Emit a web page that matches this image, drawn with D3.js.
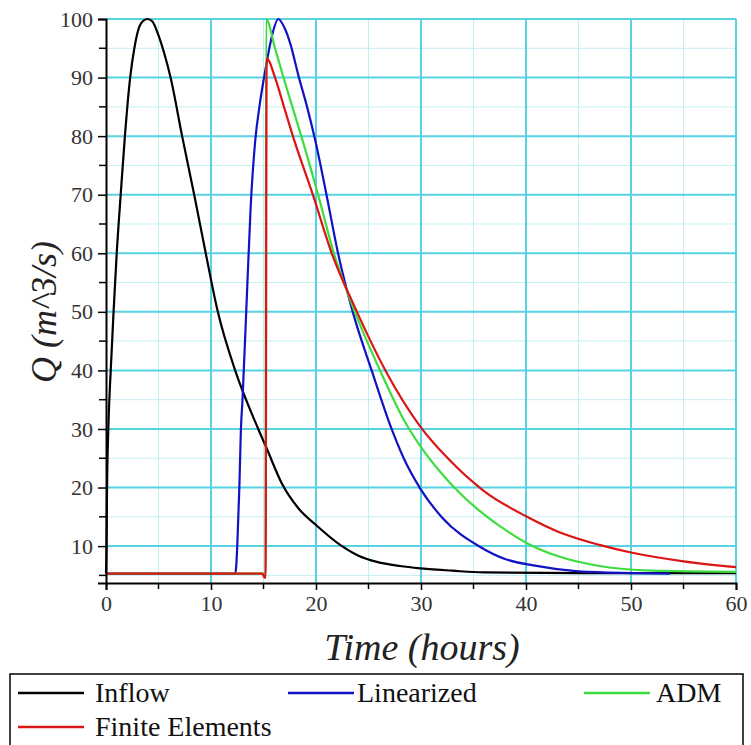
<!DOCTYPE html>
<html>
<head>
<meta charset="utf-8">
<script src="https://cdn.jsdelivr.net/npm/d3@7"></script>
<style>
  html, body { margin: 0; padding: 0; background: #fff; }
  svg { display: block; }
  svg text { font-family: 'Liberation Serif', 'Times New Roman', serif; }
</style>
</head>
<body>
<div id="chart"></div>
<script>
// Hydrograph routing comparison — four outflow curves on a cyan grid.

// ── Data (t in hours, Q in m^3/s) ─────────────────────────────
const inflow = [[0,5.3],[0.05,10],[0.1,20],[0.22,30],[0.45,40],[0.72,50],[1.02,60],[1.4,70],[1.8,80],[2.3,90],[2.7,95],[3.05,98],[3.5,99.6],[3.95,100],[4.4,99.6],[5.0,97.2],[5.6,93.8],[6.15,90],[7.25,80],[8.4,70],[9.5,60],[10.65,50],[12.3,40],[14.5,30],[15.3,26.7],[16.8,20.5],[18.3,16.5],[20,13.6],[22.3,10.2],[24,8.4],[25.8,7.3],[28,6.6],[30,6.2],[33,5.8],[36,5.5],[45,5.4],[60,5.4]];
const linearized = [[0,5.3],[12.3,5.3],[12.4,6.5],[12.5,10],[12.7,20],[12.85,30],[13.0,35],[13.4,52],[13.78,68],[14.2,79],[14.65,85.5],[15.05,90],[15.5,94.5],[15.9,97.8],[16.4,100],[17.0,98.5],[17.6,95.5],[18.3,90.5],[19.15,85],[19.9,79.5],[21.0,70],[22.1,60],[23.5,50],[25.3,40],[27.2,30],[28.3,25.2],[29.9,19.9],[32,14.9],[35.6,9.9],[38,7.8],[40.7,6.7],[45,5.7],[50,5.4],[53.7,5.3]];
const adm = [[0,5.3],[15.2,5.3],[15.25,100],[16.1,95],[16.9,90],[17.75,85],[18.6,80],[20.2,70],[21.7,60],[23.7,50],[26.1,40],[28.6,30.8],[30,26.9],[32,22.3],[34,18.5],[36.3,15],[38,12.8],[40.1,10.5],[43,8.3],[47,6.6],[52,5.8],[60,5.6]];
const finiteElements = [[0,5.3],[14.9,5.3],[15.1,4.6],[15.2,4.6],[15.3,93.3],[16.1,90],[16.95,85],[17.8,80],[19.7,70],[21.5,60],[23.9,50],[26.7,39.7],[29.9,30.5],[32.6,24.9],[36,19.4],[40.1,15],[43,12.5],[47,10.2],[50,8.9],[55,7.4],[60,6.4]];

const seriesNames  = ['Inflow', 'Linearized', 'ADM', 'Finite Elements'];
const seriesData   = [inflow, linearized, adm, finiteElements];
const seriesColors = ['#000000', '#1212c4', '#3fdc3f', '#dc1414'];

const xMajorTicks = [0, 10, 20, 30, 40, 50, 60];
const xMinorTicks = [5, 15, 25, 35, 45, 55];
const yMajorTicks = [10, 20, 30, 40, 50, 60, 70, 80, 90, 100];
const yMinorTicks = [5, 15, 25, 35, 45, 55, 65, 75, 85, 95];

// ── Layout ────────────────────────────────────────────────────
const W = 751, H = 745;
const FONT = "'Liberation Serif', 'Times New Roman', serif";

const svg = d3.select('#chart').append('svg')
  .attr('width', W).attr('height', H)
  .attr('xmlns', 'http://www.w3.org/2000/svg');

const x = d3.scaleLinear().domain([0, 60]).range([106, 736]);
const y = d3.scaleLinear().domain([3.7, 100]).range([583, 19]);

// ── Grid ──────────────────────────────────────────────────────
const grid = svg.append('g');
grid.selectAll('.hmin').data(yMinorTicks).enter().append('line')
  .attr('x1', x(0)).attr('x2', x(60)).attr('y1', d => y(d)).attr('y2', d => y(d))
  .attr('stroke', '#c4eef3').attr('stroke-width', 1);
grid.selectAll('.vmin').data(xMinorTicks).enter().append('line')
  .attr('x1', d => x(d)).attr('x2', d => x(d)).attr('y1', y(3.7)).attr('y2', y(100))
  .attr('stroke', '#c4eef3').attr('stroke-width', 1);
grid.selectAll('.hmaj').data(yMajorTicks).enter().append('line')
  .attr('x1', x(0)).attr('x2', x(60)).attr('y1', d => y(d)).attr('y2', d => y(d))
  .attr('stroke', '#55d3e2').attr('stroke-width', 2);
grid.selectAll('.vmaj').data(xMajorTicks.slice(1)).enter().append('line')
  .attr('x1', d => x(d)).attr('x2', d => x(d)).attr('y1', y(3.7)).attr('y2', y(100))
  .attr('stroke', '#55d3e2').attr('stroke-width', 2);

// ── Curves ────────────────────────────────────────────────────
const line = d3.line().x(d => x(d[0])).y(d => y(d[1])).curve(d3.curveMonotoneX);
svg.append('g').selectAll('path').data(seriesData).enter().append('path')
  .attr('d', line)
  .attr('fill', 'none')
  .attr('stroke', (_, i) => seriesColors[i])
  .attr('stroke-width', 2.2)
  .attr('stroke-linejoin', 'round');

// ── Axes ──────────────────────────────────────────────────────
const yAxis = svg.append('g').attr('transform', `translate(${x(0)},0)`)
  .call(d3.axisLeft(y).tickValues(yMajorTicks).tickSize(8).tickPadding(5))
  .call(g => {
    g.attr('font-family', null);
    g.select('.domain').attr('stroke', '#000').attr('stroke-width', 2);
    g.selectAll('.tick line').attr('stroke', '#000').attr('stroke-width', 1.5);
    g.selectAll('text').style('font-family', FONT).attr('font-size', 22).attr('fill', '#333');
  });
yAxis.selectAll('.ymin').data(yMinorTicks).enter().append('line')
  .attr('x1', -7).attr('x2', 0).attr('y1', d => y(d)).attr('y2', d => y(d))
  .attr('stroke', '#000').attr('stroke-width', 1.5);

const xAxis = svg.append('g').attr('transform', `translate(0,${y(3.7)})`)
  .call(d3.axisBottom(x).tickValues(xMajorTicks).tickSize(7).tickPadding(5))
  .call(g => {
    g.attr('font-family', null);
    g.select('.domain').attr('stroke', '#000').attr('stroke-width', 2);
    g.selectAll('.tick line').attr('stroke', '#000').attr('stroke-width', 1.5);
    g.selectAll('text').style('font-family', FONT).attr('font-size', 22).attr('fill', '#333');
  });
xAxis.selectAll('.xmin').data(xMinorTicks).enter().append('line')
  .attr('x1', d => x(d)).attr('x2', d => x(d)).attr('y1', 0).attr('y2', 6)
  .attr('stroke', '#000').attr('stroke-width', 1.5);

// Axis titles
svg.append('text')
  .attr('x', 422).attr('y', 660)
  .attr('text-anchor', 'middle')
  .style('font-family', FONT).attr('font-style', 'italic').attr('font-size', 38).attr('fill', '#222')
  .text('Time (hours)');

svg.append('text')
  .attr('transform', 'translate(56,312) rotate(-90)')
  .attr('text-anchor', 'middle')
  .style('font-family', FONT).attr('font-style', 'italic').attr('font-size', 36).attr('fill', '#222')
  .text('Q (m^3/s)');

// ── Legend ────────────────────────────────────────────────────
const legend = svg.append('g');
legend.append('rect')
  .attr('x', 10).attr('y', 674).attr('width', 733).attr('height', 90)
  .attr('fill', '#fff').attr('stroke', '#000').attr('stroke-width', 1.5);

const legendPos = [
  { lx: 18,  ly: 693, tx: 95 },
  { lx: 288, ly: 693, tx: 357 },
  { lx: 584, ly: 693, tx: 656 },
  { lx: 18,  ly: 727, tx: 95 }
];
seriesNames.forEach((name, i) => {
  const p = legendPos[i];
  legend.append('line')
    .attr('x1', p.lx).attr('x2', p.lx + 66).attr('y1', p.ly).attr('y2', p.ly)
    .attr('stroke', seriesColors[i]).attr('stroke-width', 2.5);
  legend.append('text')
    .attr('x', p.tx).attr('y', p.ly + 9)
    .style('font-family', FONT).attr('font-size', 28).attr('fill', '#111')
    .text(name);
});
</script>
</body>
</html>
